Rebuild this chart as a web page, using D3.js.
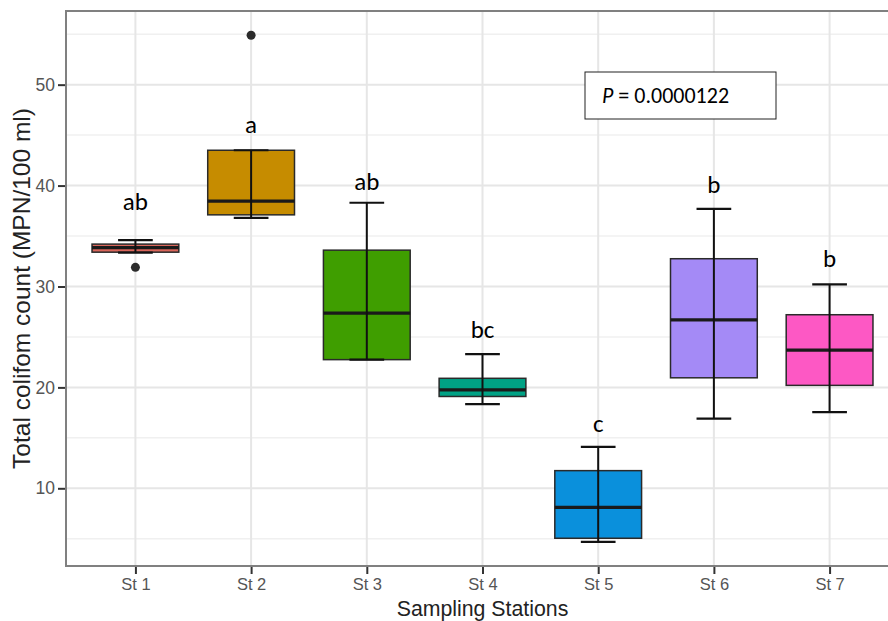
<!DOCTYPE html>
<html>
<head>
<meta charset="utf-8">
<script src="https://cdn.jsdelivr.net/npm/d3@7"></script>
<style>
  body { margin: 0; background: #fff; }
  svg { display: block; }
</style>
</head>
<body>
<script>
// data
var stations = ['St 1', 'St 2', 'St 3', 'St 4', 'St 5', 'St 6', 'St 7'];
var lowWhisker = [33.35, 36.8, 22.75, 18.35, 4.7, 16.9, 17.55];
var q1 = [33.4, 37.1, 22.75, 19.1, 5.05, 20.95, 20.2];
var median = [33.85, 38.45, 27.35, 19.75, 8.1, 26.7, 23.7];
var q3 = [34.2, 43.5, 33.6, 20.9, 11.75, 32.75, 27.2];
var highWhisker = [34.6, 43.5, 38.3, 23.3, 14.1, 37.7, 30.2];
var outliers = [[31.9], [54.9], [], [], [], [], []];
var letters = ['ab', 'a', 'ab', 'bc', 'c', 'b', 'b'];
var letterY = [37.6, 45.2, 39.6, 24.9, 15.6, 39.3, 31.9];
var fills = ['#d9655a', '#c68c00', '#3f9e00', '#00a285', '#0a90dc', '#a48af6', '#fd58c4'];
var yTicks = [10, 20, 30, 40, 50];
var yMinor = [5, 15, 25, 35, 45, 55];
var yDomain = [2.3, 57.3];
var pLabel = '0.0000122';

var W = 888, H = 621;
var panel = {left: 66, top: 11, right: 899, bottom: 566};

var svg = d3.select('body').append('svg')
  .attr('width', W).attr('height', H);

var x = d3.scalePoint().domain(stations)
  .range([panel.left, panel.right]).padding(0.6);
var y = d3.scaleLinear().domain(yDomain).range([panel.bottom, panel.top]);
var step = x.step();

var rows = stations.map(function(s, i) {
  return {st: s, lo: lowWhisker[i], q1: q1[i], med: median[i], q3: q3[i],
          hi: highWhisker[i], out: outliers[i], lab: letters[i], labY: letterY[i], fill: fills[i]};
});

// grid
var grid = svg.append('g');
grid.selectAll('.minor').data(yMinor).enter().append('line')
  .attr('x1', panel.left).attr('x2', panel.right)
  .attr('y1', function(d) { return y(d); }).attr('y2', function(d) { return y(d); })
  .attr('stroke', '#f0f0f0').attr('stroke-width', 1.5);
grid.selectAll('.major').data(yTicks).enter().append('line')
  .attr('x1', panel.left).attr('x2', panel.right)
  .attr('y1', function(d) { return y(d); }).attr('y2', function(d) { return y(d); })
  .attr('stroke', '#e6e6e6').attr('stroke-width', 2);
grid.selectAll('.vx').data(stations).enter().append('line')
  .attr('x1', function(d) { return x(d); }).attr('x2', function(d) { return x(d); })
  .attr('y1', panel.top).attr('y2', panel.bottom)
  .attr('stroke', '#e6e6e6').attr('stroke-width', 2);

// boxes
var bw = step * 0.75, cw = step * 0.3;
var g = svg.selectAll('.box').data(rows).enter().append('g');

g.append('rect')
  .attr('x', function(d) { return x(d.st) - bw / 2; })
  .attr('width', bw)
  .attr('y', function(d) { return y(d.q3); })
  .attr('height', function(d) { return y(d.q1) - y(d.q3); })
  .attr('fill', function(d) { return d.fill; })
  .attr('stroke', '#2a2a2a').attr('stroke-width', 1.5);

g.append('line')
  .attr('x1', function(d) { return x(d.st) - bw / 2; })
  .attr('x2', function(d) { return x(d.st) + bw / 2; })
  .attr('y1', function(d) { return y(d.med); })
  .attr('y2', function(d) { return y(d.med); })
  .attr('stroke', '#1a1a1a').attr('stroke-width', 3.2);

// error bar whiskers drawn through the box
g.append('line')
  .attr('x1', function(d) { return x(d.st); }).attr('x2', function(d) { return x(d.st); })
  .attr('y1', function(d) { return y(d.lo); }).attr('y2', function(d) { return y(d.hi); })
  .attr('stroke', '#111').attr('stroke-width', 2);
['lo', 'hi'].forEach(function(k) {
  g.append('line')
    .attr('x1', function(d) { return x(d.st) - cw / 2; })
    .attr('x2', function(d) { return x(d.st) + cw / 2; })
    .attr('y1', function(d) { return y(d[k]); })
    .attr('y2', function(d) { return y(d[k]); })
    .attr('stroke', '#111').attr('stroke-width', 2.2);
});

g.selectAll('circle').data(function(d) {
    return d.out.map(function(v) { return {st: d.st, v: v}; });
  }).enter().append('circle')
  .attr('cx', function(d) { return x(d.st); })
  .attr('cy', function(d) { return y(d.v); })
  .attr('r', 4.5).attr('fill', '#2b2b2b');

// letters
g.append('text')
  .attr('x', function(d) { return x(d.st); })
  .attr('y', function(d) { return y(d.labY); })
  .attr('text-anchor', 'middle')
  .style('font-family', "Carlito, Calibri, 'Liberation Sans', sans-serif")
  .style('font-size', '25px').attr('fill', '#000')
  .text(function(d) { return d.lab; });

// panel border (right side lies outside the picture)
svg.append('rect')
  .attr('x', panel.left).attr('y', panel.top)
  .attr('width', panel.right - panel.left).attr('height', panel.bottom - panel.top)
  .attr('fill', 'none').attr('stroke', '#808080').attr('stroke-width', 2);

// axes
var yAxis = svg.append('g').attr('transform', 'translate(' + (panel.left - 1) + ',0)')
  .call(d3.axisLeft(y).tickValues(yTicks).tickSize(7).tickPadding(3));
var xAxis = svg.append('g').attr('transform', 'translate(0,' + (panel.bottom + 1) + ')')
  .call(d3.axisBottom(x).tickSize(7).tickPadding(4));
[yAxis, xAxis].forEach(function(a) {
  a.select('.domain').remove();
  a.selectAll('.tick line').attr('stroke', '#333').attr('stroke-width', 2);
  a.selectAll('.tick text').attr('fill', '#555')
    .style('font-family', "'Liberation Sans', Arial, sans-serif").style('font-size', '16.5px');
});
yAxis.selectAll('.tick text').style('font-size', '17.5px');

// titles
svg.append('text')
  .attr('x', (panel.left + panel.right) / 2).attr('y', 616)
  .attr('text-anchor', 'middle').attr('fill', '#222')
  .style('font-family', "'Liberation Sans', Arial, sans-serif").style('font-size', '21.3px')
  .text('Sampling Stations');
svg.append('text')
  .attr('transform', 'translate(30,' + ((panel.top + panel.bottom) / 2) + ') rotate(-90)')
  .attr('text-anchor', 'middle').attr('fill', '#222')
  .style('font-family', "'Liberation Sans', Arial, sans-serif").style('font-size', '24.5px')
  .text('Total colifom count (MPN/100 ml)');

// P value box
var pg = svg.append('g');
pg.append('rect').attr('x', 585).attr('y', 72).attr('width', 191).attr('height', 47)
  .attr('fill', '#fff').attr('stroke', '#222').attr('stroke-width', 1);
var pt = pg.append('text').attr('x', 602).attr('y', 103)
  .style('font-family', "Carlito, Calibri, 'Liberation Sans', sans-serif")
  .style('font-size', '22px').attr('fill', '#000');
pt.append('tspan').style('font-style', 'italic').text('P');
pt.append('tspan').text(' = ' + pLabel);
</script>
</body>
</html>
